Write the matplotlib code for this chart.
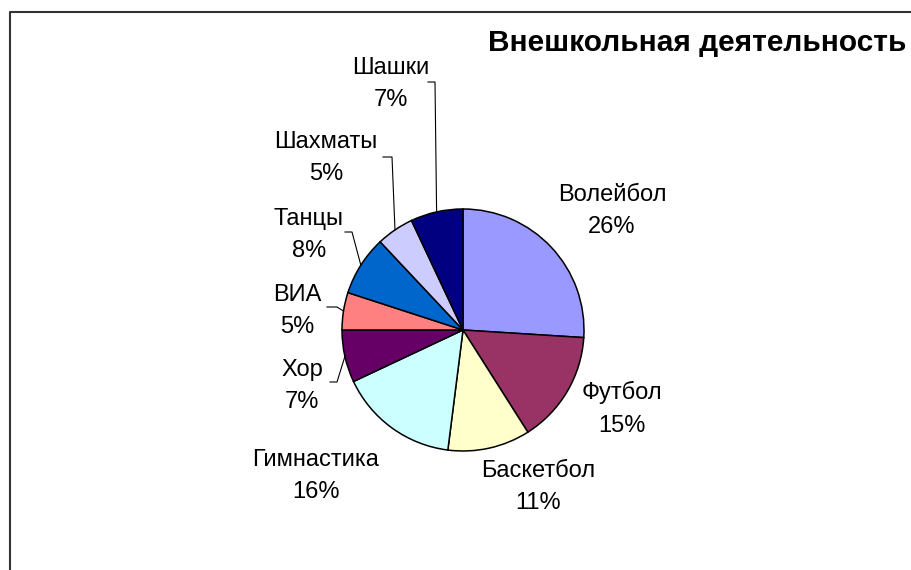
import numpy as np
import matplotlib.pyplot as plt

plt.rcParams['font.family'] = ['Liberation Sans', 'DejaVu Sans']

activities = ['Волейбол', 'Футбол', 'Баскетбол', 'Гимнастика', 'Хор',
              'ВИА', 'Танцы', 'Шахматы', 'Шашки']
shares = [26, 15, 11, 16, 7, 5, 8, 5, 7]
colors = ['#9999FF', '#993366', '#FFFFCC', '#CCFFFF', '#660066',
          '#FF8080', '#0066CC', '#CCCCFF', '#000080']
title = 'Внешкольная деятельность'

# layout in pixels, y measured from the top of the picture
W, H = 911, 570
center_px = (463, 330)
radius_px = 121
label_pos = [(612, 211), (622, 409), (538, 487), (316, 476), (302, 386),
             (297, 311), (309, 235), (326, 158), (391, 84)]
# leader lines: slice index -> (tick start x, tick end x, tick y)
leaders = {4: (330, 337, 382), 5: (327, 337, 307), 6: (345, 352, 232),
           7: (383, 392, 157), 8: (428, 435, 82)}

fig = plt.figure(figsize=(W / 100, H / 100), dpi=100)
ax = fig.add_axes([0, 0, 1, 1])

cx, cy = center_px[0], H - center_px[1]
wedges, _ = ax.pie(shares, colors=colors, startangle=90, counterclock=False,
                   center=(cx, cy), radius=radius_px,
                   wedgeprops=dict(edgecolor='black', linewidth=1.1))

for i, (name, val) in enumerate(zip(activities, shares)):
    x, y = label_pos[i]
    ax.text(x, H - y, f'{name}\n{val}%', ha='center', va='center',
            fontsize=17, linespacing=1.62)
    if i in leaders:
        w = wedges[i]
        mid = np.deg2rad((w.theta1 + w.theta2) / 2)
        ex = cx + radius_px * np.cos(mid)
        ey = cy + radius_px * np.sin(mid)
        x0, x1, ty = leaders[i]
        ax.plot([x0, x1, ex], [H - ty, H - ty, ey], color='black', lw=0.8)

ax.text(906, H - 43, title, ha='right', va='center', fontsize=21.5,
        fontweight='bold')

# chart frame (only left and top edges are visible in the crop)
ax.plot([10, 10, W + 5], [-5, H - 12, H - 12], color='#333333', lw=1.5,
        clip_on=False)

ax.set_xlim(0, W)
ax.set_ylim(0, H)
ax.set_aspect('equal')
ax.axis('off')

fig.savefig('out.png', dpi=100, facecolor='white')
